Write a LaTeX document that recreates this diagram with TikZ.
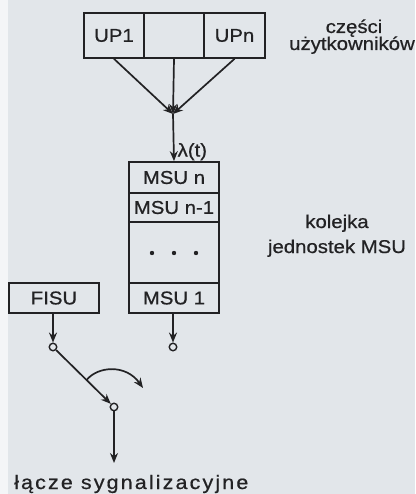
\documentclass[tikz,border=0pt]{standalone}
\usepackage{fontspec}
\setmainfont{Liberation Sans}[FakeStretch=1.1,FakeBold=0.7]
\usetikzlibrary{arrows.meta,calc}
\definecolor{bg}{RGB}{226,230,234}
\definecolor{ink}{RGB}{34,34,36}
\begin{document}
\begin{tikzpicture}[x=1pt,y=-1pt,
  box/.style={draw=ink, line width=1.7pt, inner sep=0pt, text=ink,
    font=\fontsize{18.5}{20}\selectfont},
  arr/.style={draw=ink, line width=1.7pt, -{Stealth[length=10pt,width=8pt]}},
  circ/.style={circle, draw=ink, line width=1.4pt, fill=bg, minimum size=7.5pt, inner sep=0pt},
  lbl/.style={text=ink, inner sep=0pt, font=\fontsize{18.5}{20}\selectfont}]
\useasboundingbox (0,0) rectangle (415,494);
\fill[bg] (0,0) rectangle (415,494);
\fill[white!60!bg] (0,0) rectangle (8,494);
% user parts
\node[box, minimum width=60pt, minimum height=45pt] (up1) at (114,35.5) {UP1};
\node[box, minimum width=60pt, minimum height=45pt] (upm) at (174,35.5) {};
\node[box, minimum width=61pt, minimum height=45pt] (upn) at (234.5,35.5) {UPn};
\coordinate (conv) at (173,114);
\draw[arr] (up1.south) -- (conv);
\draw[arr] (upm.south) -- (conv);
\draw[arr] (upn.south) -- (conv);
% MSU queue
\node[box, minimum width=90pt, minimum height=31pt] (msun) at (174,177.5) {MSU n};
\node[box, minimum width=90pt, minimum height=29pt] (msun1) at (174,207.5) {MSU n-1};
\node[box, minimum width=90pt, minimum height=61pt] (msud) at (174,252.5) {};
\node[box, minimum width=90pt, minimum height=30pt] (msu1) at (174,298) {MSU 1};
\fill[ink] (152,253) circle (2.2) (174,253) circle (2.2) (196,253) circle (2.2);
\draw[arr] (conv) -- node[pos=0.8, right, inner sep=3pt, text=ink, font=\fontsize{18.5}{20}\selectfont] (lam) {λ(t)} (msun.north);
% FISU
\node[box, minimum width=90pt, minimum height=30pt] (fisu) at (54,298) {FISU};
% switch
\node[circ] (c1) at (53,347) {};
\node[circ] (c2) at (173,347) {};
\node[circ] (c3) at (114,407) {};
\draw[arr] (c1 |- fisu.south) -- (c1.north);
\draw[arr] (c2 |- msu1.south) -- (c2.north);
\draw[arr] (c1) -- (c3);
\coordinate (s) at ($(c1)!0.55!(c3)$);
\coordinate (e) at (143,388);
\draw[arr] (s) .. controls (98,366) and (126,364) .. (e);
\coordinate (out) at (114,463);
\draw[arr] (c3) -- (out);
% labels
\node[lbl, anchor=base] (t1) at (354,33) {części};
\node[lbl, anchor=base] (t2) at (352,50) {użytkowników};
\node[lbl, anchor=base] (t3) at (337,228) {kolejka};
\node[lbl, anchor=base] (t4) at (337,253) {jednostek MSU};
\node[lbl, anchor=base west, font=\fontsize{19.5}{22}\selectfont\addfontfeature{LetterSpace=11}] (t5) at (14,489) {łącze sygnalizacyjne};
\end{tikzpicture}
\end{document}
